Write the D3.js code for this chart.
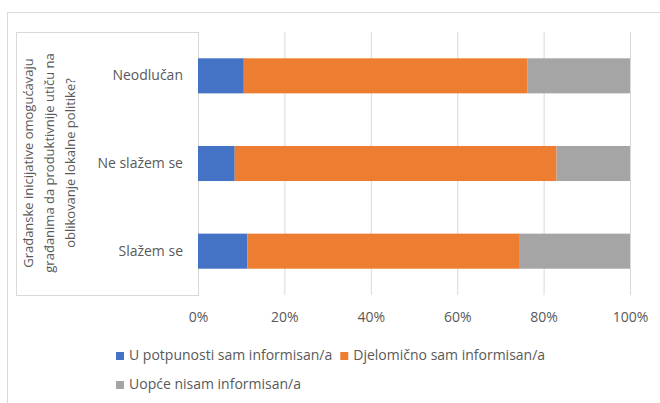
<!DOCTYPE html>
<html>
<head>
<meta charset="utf-8">
<script src="https://cdn.jsdelivr.net/npm/d3@7"></script>
<style>
  body { margin: 0; background: #ffffff; }
  text { font-family: "Open Sans", sans-serif; fill: #595959; }
</style>
</head>
<body>
<div id="chart-area"></div>
<script>
// data (percent of respondents)
const categories = ["Neodlučan", "Ne slažem se", "Slažem se"];
const seriesNames = ["U potpunosti sam informisan/a", "Djelomično sam informisan/a", "Uopće nisam informisan/a"];
const potpuno = [10.6, 8.5, 11.4];
const djelomicno = [65.6, 74.5, 63.1];
const uopce = [23.8, 17.0, 25.5];
const xTicks = [0, 20, 40, 60, 80, 100];
const titleLines = ["Građanske inicijative omogućavaju", "građanima da produktivnije utiču na", "oblikovanje lokalne politike?"];

const colors = ["#4472C4", "#ED7D31", "#A5A5A5"];

var w = 660, h = 403;
const PLOT = { LEFT: 198, RIGHT: 630, TOP: 32, BOTTOM: 295 };

// table for the stack layout
var rows = categories.map((c, i) => ({ cat: c, s0: potpuno[i], s1: djelomicno[i], s2: uopce[i] }));
var stacked = d3.stack().keys(["s0", "s1", "s2"])(rows);

var svg = d3.select("#chart-area").append("svg")
    .attr("width", w)
    .attr("height", h);

// outer chart border
svg.append("path")
    .attr("d", "M7.5," + h + "V12.5H" + w)
    .attr("fill", "none")
    .attr("stroke", "#d9d9d9");

var x = d3.scaleLinear()
    .domain([0, 100])
    .range([PLOT.LEFT, PLOT.RIGHT]);

var y = d3.scaleBand()
    .domain(categories)
    .range([PLOT.TOP, PLOT.BOTTOM])
    .paddingInner(0.6)
    .paddingOuter(0.3);

// gridlines
svg.append("g")
    .selectAll("line")
    .data(xTicks.slice(1))
    .enter().append("line")
    .attr("x1", d => x(d) + 0.5)
    .attr("x2", d => x(d) + 0.5)
    .attr("y1", PLOT.TOP)
    .attr("y2", PLOT.BOTTOM)
    .attr("stroke", "#d9d9d9");

// box around category axis + title
svg.append("rect")
    .attr("x", 16.5)
    .attr("y", PLOT.TOP + 0.5)
    .attr("width", PLOT.LEFT - 16)
    .attr("height", PLOT.BOTTOM - PLOT.TOP)
    .attr("fill", "none")
    .attr("stroke", "#d9d9d9");

// bars
svg.append("g")
    .selectAll("g")
    .data(stacked)
    .enter().append("g")
    .attr("fill", (d, i) => colors[i])
    .selectAll("rect")
    .data(d => d)
    .enter().append("rect")
    .attr("x", d => x(d[0]))
    .attr("width", d => x(d[1]) - x(d[0]))
    .attr("y", d => y(d.data.cat))
    .attr("height", y.bandwidth());

// x axis labels
var xAxis = svg.append("g")
    .attr("transform", "translate(0," + 322 + ")")
    .call(d3.axisBottom(x).tickValues(xTicks).tickFormat(d => d + "%").tickSize(0).tickPadding(0));
xAxis.select(".domain").remove();
xAxis.selectAll("text")
    .attr("dy", null)
    .attr("y", 0)
    .style("font-family", "Open Sans")
    .style("font-size", "14px")
    .attr("fill", "#595959");

// category labels
var yAxis = svg.append("g")
    .attr("transform", "translate(" + 183 + ",0)")
    .call(d3.axisLeft(y).tickSize(0).tickPadding(0));
yAxis.select(".domain").remove();
yAxis.selectAll("text")
    .style("font-family", "Open Sans")
    .style("font-size", "14px")
    .attr("fill", "#595959");

// rotated axis title
svg.append("text")
    .attr("transform", "translate(49,163) rotate(-90)")
    .attr("text-anchor", "middle")
    .style("font-size", "13px")
    .selectAll("tspan")
    .data(titleLines)
    .enter().append("tspan")
    .attr("x", 0)
    .attr("y", (d, i) => (i - 1) * 21)
    .attr("dominant-baseline", "central")
    .text(d => d);

// legend, two rows
var legendRows = [[0, 1], [2]];
var legendY = [360, 389];
legendRows.forEach(function(row, r) {
    var lx = 116;
    row.forEach(function(i) {
        var item = svg.append("g");
        item.append("rect")
            .attr("x", lx)
            .attr("y", legendY[r] - 8)
            .attr("width", 8)
            .attr("height", 8)
            .attr("fill", colors[i]);
        var t = item.append("text")
            .attr("x", lx + 13)
            .attr("y", legendY[r])
            .style("font-size", "14px")
            .text(seriesNames[i]);
        lx += 13 + t.node().getComputedTextLength() + 8;
    });
});
</script>
</body>
</html>
